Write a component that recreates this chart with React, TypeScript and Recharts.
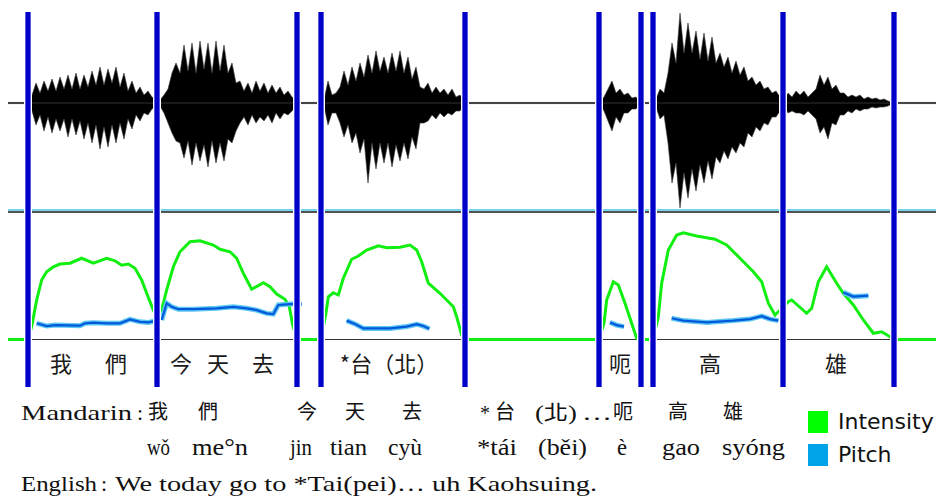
import { ComposedChart, Area, Line, XAxis, YAxis, ReferenceLine, ReferenceDot, Legend } from 'recharts'

// time in seconds; the waveform envelope is sampled every 12 ms
const TOTAL = 2.784
const WAVE_STEP = 0.012

// [upper, lower] peak amplitude (% of full scale) per sample
const waveWoMen = [[3,3],[8,8],[20,22],[10,12],[22,28],[12,14],[24,30],[12,16],[26,28],[14,16],[28,34],[14,16],[30,32],[14,18],[28,36],[16,20],[32,40],[18,22],[36,46],[18,24],[34,44],[20,22],[36,40],[16,20],[30,36],[12,16],[22,26],[10,12],[16,18],[8,10],[12,12],[6,6],[3,3]]
const waveJinTianQu = [[3,3],[8,10],[14,20],[30,30],[40,38],[30,40],[58,55],[32,38],[60,62],[30,40],[62,58],[34,42],[60,64],[30,38],[62,60],[32,40],[58,58],[30,36],[40,40],[20,28],[22,20],[12,14],[20,22],[10,12],[22,20],[12,14],[20,18],[10,12],[18,20],[10,10],[16,16],[8,10],[12,12],[6,8],[3,3]]
const waveTaiBei = [[3,3],[22,22],[8,10],[10,10],[16,20],[32,34],[18,22],[36,40],[22,30],[40,50],[26,36],[48,80],[30,40],[52,66],[32,40],[46,60],[30,40],[50,64],[32,42],[52,58],[30,40],[46,56],[24,34],[36,46],[16,20],[14,20],[20,18],[10,12],[16,16],[10,10],[14,14],[8,10],[14,12],[6,8],[8,8],[2,2]]
const waveE = [[1,1],[6,8],[14,18],[22,28],[10,14],[14,20],[8,10],[10,10],[5,6],[6,6],[1,1]]
const waveGao = [[4,4],[14,16],[10,12],[30,40],[60,80],[40,60],[90,105],[50,70],[80,95],[50,66],[72,88],[44,62],[70,80],[42,58],[66,76],[40,54],[50,60],[36,48],[46,56],[30,44],[42,50],[28,40],[36,44],[22,30],[26,34],[18,24],[22,28],[14,20],[16,22],[10,14],[12,14],[6,8]]
const waveXiong = [[2,2],[10,10],[6,8],[12,10],[8,10],[12,12],[6,8],[10,12],[14,16],[28,30],[18,24],[26,36],[14,20],[18,22],[10,12],[10,12],[6,8],[8,10],[6,6],[8,8],[4,6],[6,6],[4,4],[5,5],[3,4],[4,4],[2,3],[1,1]]
const waveStarts = [0.060, 0.456, 0.948, 1.776, 1.944, 2.328]
// background noise level in the pauses
const silenceTimes = [0, 0.054, 0.870, 0.942, 1.374, 1.770, 1.902, 1.938, 2.658, 2.784]

// intensity in dB (floor 40 dB in silence)
const intensity = [
  [0,40],[0.060,40],
  [0.071,45.1],[0.086,55.8],[0.101,63.8],[0.116,67.1],[0.136,69.1],[0.156,70.2],[0.186,70.5],[0.221,72.5],[0.256,70.5],[0.296,72.5],[0.321,71.5],[0.341,69.7],[0.361,70.2],[0.381,68.5],[0.401,63.8],[0.416,58.5],[0.436,51.8],[0.444,49.8],
  [0.461,51.8],[0.476,59.8],[0.496,69.1],[0.516,75.1],[0.546,79.1],[0.576,79.5],[0.616,77.8],[0.636,76.1],[0.666,75.1],[0.686,72.5],[0.706,66.5],[0.731,60.1],[0.766,62.7],[0.786,61.1],[0.806,58.2],[0.831,56.1],[0.844,53.1],[0.854,45.8],
  [0.867,40],[0.939,40],
  [0.954,50.7],[0.961,57.1],[0.976,58.7],[0.991,57.8],[1.006,64.5],[1.031,72.1],[1.051,73.4],[1.076,75.8],[1.111,77.5],[1.136,76.7],[1.176,76.9],[1.206,77.8],[1.226,75.8],[1.241,71.1],[1.261,62.5],[1.296,58.5],[1.336,53.1],[1.346,49.1],[1.361,41.8],
  [1.371,40],[1.773,40],
  [1.788,46.5],[1.796,55.8],[1.816,63.1],[1.831,61.8],[1.851,54.5],[1.871,46.5],[1.886,40.5],
  [1.899,40],[1.935,40],
  [1.951,49.1],[1.961,62.5],[1.981,75.8],[2.006,81.8],[2.026,82.7],[2.066,81.4],[2.121,80.1],[2.156,77.8],[2.196,72.5],[2.236,67.1],[2.261,63.1],[2.281,54.5],[2.301,49.8],[2.311,51.1],
  [2.341,55.1],[2.351,55.8],[2.396,50.5],[2.411,52.5],[2.431,63.1],[2.456,69.1],[2.486,62.5],[2.506,58.5],[2.536,53.8],[2.566,47.8],[2.596,42.5],[2.621,43.1],[2.646,41.1],
  [2.658,40],[2.784,40],
]

// pitch in Hz, one run per voiced stretch
const pitchRuns = [
  [[0.086,129],[0.116,120],[0.141,123],[0.216,121],[0.231,129],[0.256,131],[0.296,129],[0.336,129],[0.366,142],[0.396,134],[0.421,132],[0.446,138]],
  [[0.461,140],[0.476,196],[0.491,184],[0.511,176],[0.556,176],[0.626,179],[0.676,184],[0.716,179],[0.746,173],[0.776,162],[0.796,160],[0.811,190],[0.846,193],[0.881,193]],
  [[1.016,138],[1.041,127],[1.066,112],[1.146,112],[1.196,118],[1.226,126],[1.246,120],[1.264,111]],
  [[1.806,132],[1.826,123],[1.848,118]],
  [[1.991,146],[2.026,138],[2.096,132],[2.176,138],[2.226,143],[2.261,153],[2.286,143],[2.311,138]],
  [[2.506,232],[2.536,218],[2.581,221]],
]

const boundaries = [0.060, 0.447, 0.867, 0.939, 1.371, 1.773, 1.899, 1.935, 2.325, 2.658]
const syllables = [
  { t: 0.159, text: '我' }, { t: 0.324, text: '們' }, { t: 0.519, text: '今' }, { t: 0.630, text: '天' },
  { t: 0.765, text: '去' }, { t: 1.143, text: '*台（北）' }, { t: 1.836, text: '呃' }, { t: 2.106, text: '高' },
  { t: 2.484, text: '雄' },
]

// gloss rows below the chart: [text, left, width]
const glossMandarin = [['我',148],['們',198],['今',297],['天',345],['去',402],['呃',613],['高',668],['雄',723]]
const glossMandarinLatin = [['*',480,10],['(北)',535,42],['…',582,30]]
const glossPinyin = [['wǒ',147,23],['me°n',192,56],['jin',290,22],['tian',330,37],['cyù',388,34],['*tái',477,40],['(běi)',538,49],['è',617,10],['gao',662,38],['syóng',722,63]]
const legendColors: Record<string, string> = { Intensity: '#00ff00', Pitch: '#00a2e8' }

const waveSegs = [waveWoMen, waveJinTianQu, waveTaiBei, waveE, waveGao, waveXiong]
const waveData: { t: number; amp: number[] }[] = silenceTimes.map((t) => ({ t, amp: [-0.6, 0.6] }))
waveSegs.forEach((seg, k) => seg.forEach(([up, lo], i) => {
  waveData.push({ t: +(waveStarts[k] + i * WAVE_STEP).toFixed(3), amp: [-lo, up] })
}))
waveData.sort((a, b) => a.t - b.t)

const intensityData = intensity.map(([t, db]) => ({ t, db }))
const pitchData: { t: number; hz: number | null }[] = []
pitchRuns.forEach((run) => {
  run.forEach(([t, hz]) => pitchData.push({ t, hz }))
  pitchData.push({ t: run[run.length - 1][0] + 0.001, hz: null })
})

const serif = '"Liberation Serif", "Times New Roman", serif'
const cjk = '"Noto Sans CJK TC", "Noto Sans CJK SC", sans-serif'

function LegendBox({ payload }: any) {
  const items = (payload || []).filter((p: any) => legendColors[p.value])
  return (
    <div>
      {items.map((p: any) => (
        <div key={p.value} style={{ display: 'flex', alignItems: 'center', height: 33 }}>
          <span style={{ width: 20, height: 22, background: legendColors[p.value], marginRight: 10 }} />
          <span style={{ fontFamily: '"DejaVu Sans", sans-serif', fontSize: 22, color: '#111' }}>{p.value}</span>
        </div>
      ))}
    </div>
  )
}

export default function App() {
  return (
    <div style={{ position: 'absolute', left: 0, top: 0, width: 936, height: 502, background: '#fff' }}>
      <ComposedChart width={936} height={502} data={waveData} margin={{ top: 12, right: 0, bottom: 115, left: 8 }}>
        <XAxis type="number" dataKey="t" domain={[0, TOTAL]} hide allowDataOverflow />
        <YAxis yAxisId="wave" domain={[-284, 91]} hide allowDataOverflow />
        <YAxis yAxisId="int" domain={[21, 171]} hide allowDataOverflow />
        <YAxis yAxisId="pitch" domain={[-83.3, 1166.7]} hide allowDataOverflow />

        <ReferenceLine yAxisId="wave" y={0} stroke="#333" strokeWidth={1} />
        <Area yAxisId="wave" dataKey="amp" type="linear" fill="#000" fillOpacity={1}
          stroke="#3a3a3a" strokeWidth={0.6} isAnimationActive={false} legendType="none" />

        <ReferenceLine yAxisId="pitch" y={507} stroke="#4cc4e4" strokeWidth={1.5} />
        <ReferenceLine yAxisId="pitch" y={500} stroke="#1a1a1a" strokeWidth={1.5} />
        <ReferenceLine yAxisId="int" y={40} stroke="#333" strokeWidth={1.2} />

        <Line yAxisId="int" data={intensityData} dataKey="db" name="Intensity" type="linear" stroke="#11ee11"
          strokeWidth={3} dot={false} isAnimationActive={false} />
        <Line yAxisId="pitch" data={pitchData} dataKey="hz" type="linear" stroke="#5cc8f0" strokeWidth={5}
          dot={false} connectNulls={false} isAnimationActive={false} legendType="none" />
        <Line yAxisId="pitch" data={pitchData} dataKey="hz" name="Pitch" type="linear" stroke="#0058dc"
          strokeWidth={2.2} dot={false} connectNulls={false} isAnimationActive={false} />

        {boundaries.map((t) => (
          <ReferenceLine key={'h' + t} yAxisId="wave" x={t} stroke="#fff" strokeWidth={8} />
        ))}
        {boundaries.map((t) => (
          <ReferenceLine key={'e' + t} yAxisId="wave" x={t} stroke="#7a7aea" strokeWidth={6} />
        ))}
        {boundaries.map((t) => (
          <ReferenceLine key={t} yAxisId="wave" x={t} stroke="#0000c8" strokeWidth={4.5} />
        ))}
        {syllables.map((s) => (
          <ReferenceDot key={s.t} yAxisId="int" x={s.t} y={30} r={0} fill="none" stroke="none"
            label={{ value: s.text, position: 'center', fill: '#1a1a1a', fontSize: 22, fontFamily: cjk }} />
        ))}

        <Legend layout="horizontal" verticalAlign="middle" align="center" content={<LegendBox />}
          wrapperStyle={{ left: 808, top: 405, width: 128 }} />
      </ComposedChart>

      <svg width={936} height={502} style={{ position: 'absolute', left: 0, top: 0, pointerEvents: 'none' }}>
        <g fill="#111" fontFamily={serif} fontSize={22}>
          <text x={21} y={420} textLength={111} lengthAdjust="spacingAndGlyphs">Mandarin</text>
          <text x={137} y={420}>:</text>
          {glossMandarin.map(([s, x]) => (
            <text key={s as string} x={x as number} y={419} fontFamily={cjk} fontSize={20}>{s}</text>
          ))}
          <text x={495} y={419} fontFamily={cjk} fontSize={20}>台</text>
          {glossMandarinLatin.map(([s, x, w]) => (
            <text key={s as string} x={x as number} y={420} textLength={w as number} lengthAdjust="spacingAndGlyphs">
              {s === '(北)' ? <>(<tspan fontFamily={cjk} fontSize={20}>北</tspan>)</> : s}
            </text>
          ))}
          {glossPinyin.map(([s, x, w]) => (
            <text key={s as string} x={x as number} y={455} fontSize={24} textLength={w as number} lengthAdjust="spacingAndGlyphs">{s}</text>
          ))}
          <text x={21} y={491} textLength={76} lengthAdjust="spacingAndGlyphs">English</text>
          <text x={101} y={491}>:</text>
          <text x={115} y={491} textLength={482} lengthAdjust="spacingAndGlyphs">We today go to *Tai(pei)… uh Kaohsuing.</text>
        </g>
      </svg>
    </div>
  )
}
